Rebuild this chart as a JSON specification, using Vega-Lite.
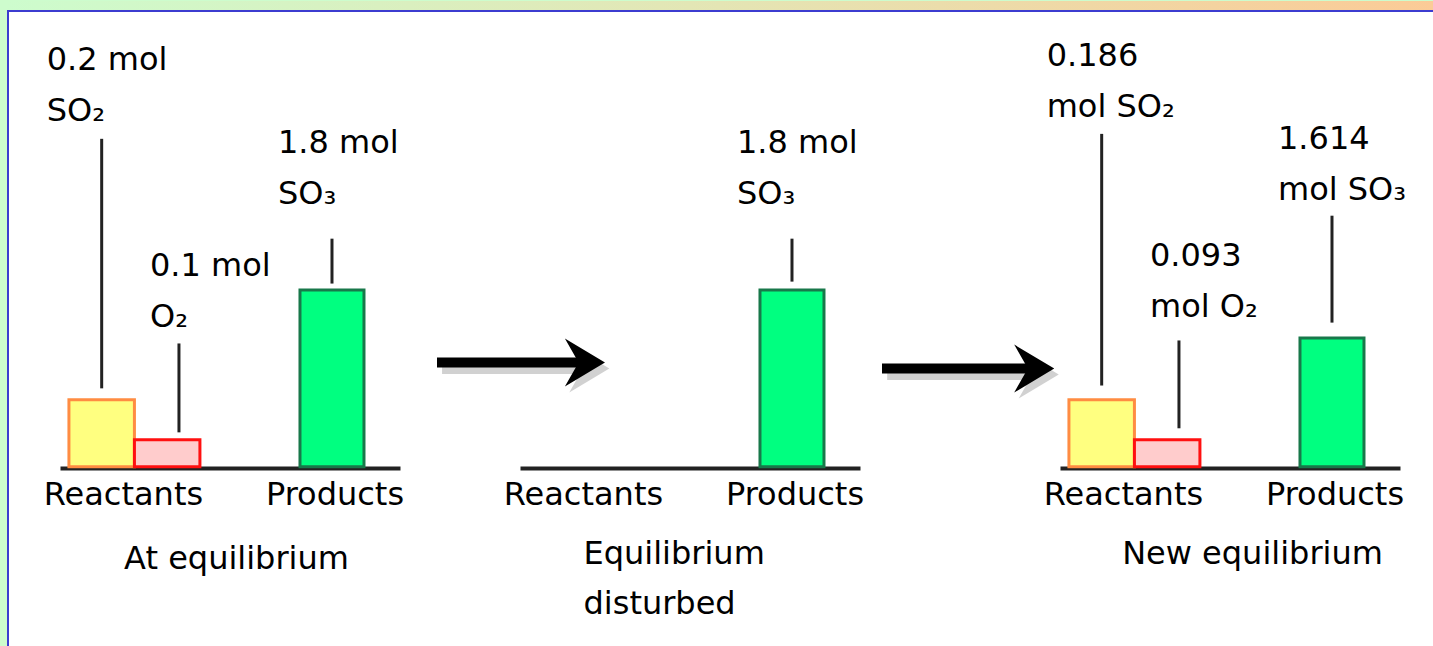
{
  "$schema": "https://vega.github.io/schema/vega-lite/v6.json",
  "width": 1433,
  "height": 646,
  "autosize": {"type": "fit", "contains": "padding"},
  "padding": {"left": 7, "top": 0, "right": 0, "bottom": 0},
  "background": "#cdfccd",
  "config": {"view": {"fill": "#ffffff", "stroke": null}, "font": "DejaVu Sans", "axis": {"labelAngle": 0, "labelOverlap": false, "labelLimit": 0, "labelFlush": false}},
  "datasets": {
    "frame": [{"part": "slide frame"}],
    "amounts": [
      {"stage": "At equilibrium", "group": "Reactants", "species": "SO2", "mol": 0.2, "level": 37.9, "label": "0.2 mol\nSO₂", "label_level": 224.3, "line_top": 185.6, "line_bottom": 44.4},
      {"stage": "At equilibrium", "group": "Reactants", "species": "O2", "mol": 0.1, "level": 15.3, "label": "0.1 mol\nO₂", "label_level": 108.2, "line_top": 69.8, "line_bottom": 19.5},
      {"stage": "At equilibrium", "group": "Products", "species": "SO3", "mol": 1.8, "level": 100, "label": "1.8 mol\nSO₃", "label_level": 177.7, "line_top": 129.1, "line_bottom": 103.7},
      {"stage": "Equilibrium disturbed", "group": "Products", "species": "SO3", "mol": 1.8, "level": 100, "label": "1.8 mol\nSO₃", "label_level": 177.7, "line_top": 129.1, "line_bottom": 104.8},
      {"stage": "New equilibrium", "group": "Reactants", "species": "SO2", "mol": 0.186, "level": 37.9, "label": "0.186\nmol SO₂", "label_level": 226.8, "line_top": 188.4, "line_bottom": 46.0},
      {"stage": "New equilibrium", "group": "Reactants", "species": "O2", "mol": 0.093, "level": 15.3, "label": "0.093\nmol O₂", "label_level": 113.8, "line_top": 71.5, "line_bottom": 21.8},
      {"stage": "New equilibrium", "group": "Products", "species": "SO3", "mol": 1.614, "level": 72.9, "label": "1.614\nmol SO₃", "label_level": 179.8, "line_top": 142.1, "line_bottom": 81.6}
    ],
    "steps": [
      {"from": "At equilibrium", "to": "Equilibrium disturbed"},
      {"from": "Equilibrium disturbed", "to": "New equilibrium"}
    ]
  },
  "resolve": {"scale": {"x": "independent"}, "axis": {"x": "independent"}},
  "layer": [
    {
      "data": {"name": "frame"},
      "layer": [
        {
          "mark": {"type": "rect", "fill": {"gradient": "linear", "x1": 0, "y1": 0, "x2": 1, "y2": 0, "stops": [{"offset": 0, "color": "#cdfccd"}, {"offset": 0.5, "color": "#e4e5b4"}, {"offset": 1, "color": "#fbcb97"}]}},
          "encoding": {
            "x": {"datum": 0, "type": "quantitative", "scale": {"domain": [0, 1], "nice": false, "zero": false}, "axis": null},
            "x2": {"datum": 1},
            "y": {"datum": 258.5, "type": "quantitative", "scale": {"domain": [-101.4, 258.5], "nice": false, "zero": false}, "axis": null},
            "y2": {"datum": 263.6}
          }
        },
        {
          "mark": {"type": "rule", "color": "#3c3cd0", "strokeWidth": 4, "clip": true},
          "encoding": {
            "x": {"datum": 0, "type": "quantitative", "scale": {"domain": [0, 1], "nice": false, "zero": false}, "axis": null},
            "y": {"datum": -101.4, "type": "quantitative", "scale": {"domain": [-101.4, 258.5], "nice": false, "zero": false}, "axis": null},
            "y2": {"datum": 258.5}
          }
        },
        {
          "mark": {"type": "rule", "color": "#3c3cd0", "strokeWidth": 4, "clip": true},
          "encoding": {
            "x": {"datum": 0, "type": "quantitative", "scale": {"domain": [0, 1], "nice": false, "zero": false}, "axis": null},
            "x2": {"datum": 1},
            "y": {"datum": 258.5, "type": "quantitative", "scale": {"domain": [-101.4, 258.5], "nice": false, "zero": false}, "axis": null}
          }
        }
      ]
    },
    {
      "data": {"name": "amounts"},
      "transform": [{"filter": "datum.stage === 'At equilibrium'"}],
      "encoding": {
        "x": {"field": "group", "type": "nominal", "sort": null,
          "scale": {"domain": ["Reactants", "Products"], "range": [53, 393], "paddingInner": 0.337, "paddingOuter": 0.029, "align": 0.78},
          "axis": {"orient": "bottom", "offset": -178, "domain": true, "domainColor": "#222222", "domainWidth": 4, "ticks": false, "tickSize": 0, "grid": false, "labelAngle": 0, "labelFont": "DejaVu Sans", "labelFontSize": 32, "labelColor": "#000000", "labelPadding": 11, "labelOffset": {"condition": {"test": "datum.value === 'Reactants'", "value": -11}, "value": 3}, "title": "At equilibrium", "titleFont": "DejaVu Sans", "titleFontSize": 32, "titleFontWeight": "normal", "titleColor": "#000000", "titlePadding": 33, "titleX": 229, "titleAlign": "center", "titleLineHeight": 50}}
      },
      "layer": [
        {
          "transform": [{"filter": "datum.group === 'Reactants'"}],
          "mark": {"type": "bar", "strokeWidth": 3},
          "encoding": {
            "xOffset": {"field": "species", "type": "nominal", "sort": null, "scale": {"domain": ["SO2", "O2"], "paddingInner": 0, "paddingOuter": 0}},
            "y": {"field": "level", "type": "quantitative", "scale": {"domain": [-101.4, 258.5], "nice": false, "zero": false}, "axis": null},
            "y2": {"datum": 0},
            "fill": {"field": "species", "type": "nominal", "scale": {"domain": ["SO2", "O2", "SO3"], "range": ["#ffff80", "#ffcccc", "#00ff80"]}, "legend": null},
            "stroke": {"field": "species", "type": "nominal", "scale": {"domain": ["SO2", "O2", "SO3"], "range": ["#ff8c42", "#ff1010", "#18784a"]}, "legend": null}
          }
        },
        {
          "transform": [{"filter": "datum.group === 'Products'"}],
          "mark": {"type": "bar", "strokeWidth": 3, "width": 64},
          "encoding": {
            "y": {"field": "level", "type": "quantitative", "scale": {"domain": [-101.4, 258.5], "nice": false, "zero": false}, "axis": null},
            "y2": {"datum": 0},
            "fill": {"field": "species", "type": "nominal", "scale": {"domain": ["SO2", "O2", "SO3"], "range": ["#ffff80", "#ffcccc", "#00ff80"]}, "legend": null},
            "stroke": {"field": "species", "type": "nominal", "scale": {"domain": ["SO2", "O2", "SO3"], "range": ["#ff8c42", "#ff1010", "#18784a"]}, "legend": null}
          }
        },
        {
          "transform": [{"filter": "datum.species === 'SO2'"}],
          "encoding": {
            "x": {"field": "group", "type": "nominal", "sort": null, "bandPosition": 0.25,
              "scale": {"domain": ["Reactants", "Products"], "range": [53, 393], "paddingInner": 0.337, "paddingOuter": 0.029, "align": 0.78},
              "axis": {"orient": "bottom", "offset": -178, "domain": true, "domainColor": "#222222", "domainWidth": 4, "ticks": false, "tickSize": 0, "grid": false, "labelAngle": 0, "labelFont": "DejaVu Sans", "labelFontSize": 32, "labelColor": "#000000", "labelPadding": 11, "labelOffset": {"condition": {"test": "datum.value === 'Reactants'", "value": -11}, "value": 3}, "title": "At equilibrium", "titleFont": "DejaVu Sans", "titleFontSize": 32, "titleFontWeight": "normal", "titleColor": "#000000", "titlePadding": 33, "titleX": 229, "titleAlign": "center", "titleLineHeight": 50}}
          },
          "layer": [
            {"mark": {"type": "rule", "color": "#222222", "strokeWidth": 3},
             "encoding": {"y": {"field": "line_top", "type": "quantitative", "scale": {"domain": [-101.4, 258.5], "nice": false, "zero": false}, "axis": null}, "y2": {"field": "line_bottom"}}},
            {"mark": {"type": "text", "align": "left", "baseline": "alphabetic", "dx": -55, "fontSize": 32, "lineHeight": 51, "lineBreak": "\n", "color": "#000000"},
             "encoding": {"y": {"field": "label_level", "type": "quantitative", "scale": {"domain": [-101.4, 258.5], "nice": false, "zero": false}, "axis": null}, "text": {"field": "label"}}}
          ]
        },
        {
          "transform": [{"filter": "datum.species === 'O2'"}],
          "encoding": {
            "x": {"field": "group", "type": "nominal", "sort": null, "bandPosition": 0.84,
              "scale": {"domain": ["Reactants", "Products"], "range": [53, 393], "paddingInner": 0.337, "paddingOuter": 0.029, "align": 0.78},
              "axis": {"orient": "bottom", "offset": -178, "domain": true, "domainColor": "#222222", "domainWidth": 4, "ticks": false, "tickSize": 0, "grid": false, "labelAngle": 0, "labelFont": "DejaVu Sans", "labelFontSize": 32, "labelColor": "#000000", "labelPadding": 11, "labelOffset": {"condition": {"test": "datum.value === 'Reactants'", "value": -11}, "value": 3}, "title": "At equilibrium", "titleFont": "DejaVu Sans", "titleFontSize": 32, "titleFontWeight": "normal", "titleColor": "#000000", "titlePadding": 33, "titleX": 229, "titleAlign": "center", "titleLineHeight": 50}}
          },
          "layer": [
            {"mark": {"type": "rule", "color": "#222222", "strokeWidth": 3},
             "encoding": {"y": {"field": "line_top", "type": "quantitative", "scale": {"domain": [-101.4, 258.5], "nice": false, "zero": false}, "axis": null}, "y2": {"field": "line_bottom"}}},
            {"mark": {"type": "text", "align": "left", "baseline": "alphabetic", "dx": -29, "fontSize": 32, "lineHeight": 51, "lineBreak": "\n", "color": "#000000"},
             "encoding": {"y": {"field": "label_level", "type": "quantitative", "scale": {"domain": [-101.4, 258.5], "nice": false, "zero": false}, "axis": null}, "text": {"field": "label"}}}
          ]
        },
        {
          "transform": [{"filter": "datum.species === 'SO3'"}],
          "layer": [
            {"mark": {"type": "rule", "color": "#222222", "strokeWidth": 3},
             "encoding": {"y": {"field": "line_top", "type": "quantitative", "scale": {"domain": [-101.4, 258.5], "nice": false, "zero": false}, "axis": null}, "y2": {"field": "line_bottom"}}},
            {"mark": {"type": "text", "align": "left", "baseline": "alphabetic", "dx": -54, "fontSize": 32, "lineHeight": 51, "lineBreak": "\n", "color": "#000000"},
             "encoding": {"y": {"field": "label_level", "type": "quantitative", "scale": {"domain": [-101.4, 258.5], "nice": false, "zero": false}, "axis": null}, "text": {"field": "label"}}}
          ]
        }
      ]
    },
    {
      "data": {"name": "steps"},
      "transform": [{"filter": "datum.to === 'Equilibrium disturbed'"}],
      "layer": [
        {"mark": {"type": "rule", "color": "#7a7a7a", "opacity": 0.35, "strokeWidth": 11, "strokeCap": "butt"},
         "encoding": {
           "x": {"datum": 0.03, "type": "quantitative", "scale": {"domain": [0, 1], "range": [430, 598], "nice": false, "zero": false}, "axis": null},
           "x2": {"datum": 0.88},
           "y": {"datum": 55.6, "type": "quantitative", "scale": {"domain": [-101.4, 258.5], "nice": false, "zero": false}, "axis": null}}},
        {"mark": {"type": "point", "shape": "M 1 0 L -0.67 -1 L -0.1 0 L -0.67 1 Z", "size": 2304, "filled": true, "color": "#7a7a7a", "opacity": 0.35, "strokeWidth": 0},
         "encoding": {
           "x": {"datum": 0.883, "type": "quantitative", "scale": {"domain": [0, 1], "range": [430, 598], "nice": false, "zero": false}, "axis": null},
           "y": {"datum": 55.6, "type": "quantitative", "scale": {"domain": [-101.4, 258.5], "nice": false, "zero": false}, "axis": null}}},
        {"mark": {"type": "rule", "color": "#000000", "strokeWidth": 10, "strokeCap": "butt"},
         "encoding": {
           "x": {"datum": 0, "type": "quantitative", "scale": {"domain": [0, 1], "range": [430, 598], "nice": false, "zero": false}, "axis": null},
           "x2": {"datum": 0.85},
           "y": {"datum": 59, "type": "quantitative", "scale": {"domain": [-101.4, 258.5], "nice": false, "zero": false}, "axis": null}}},
        {"mark": {"type": "point", "shape": "M 1 0 L -0.67 -1 L -0.1 0 L -0.67 1 Z", "size": 2304, "filled": true, "color": "#000000", "opacity": 1, "strokeWidth": 0},
         "encoding": {
           "x": {"datum": 0.857, "type": "quantitative", "scale": {"domain": [0, 1], "range": [430, 598], "nice": false, "zero": false}, "axis": null},
           "y": {"datum": 59, "type": "quantitative", "scale": {"domain": [-101.4, 258.5], "nice": false, "zero": false}, "axis": null}}}
      ]
    },
    {
      "data": {"name": "amounts"},
      "transform": [{"filter": "datum.stage === 'Equilibrium disturbed'"}],
      "encoding": {
        "x": {"field": "group", "type": "nominal", "sort": null,
          "scale": {"domain": ["Reactants", "Products"], "range": [513, 853], "paddingInner": 0.337, "paddingOuter": 0.029, "align": 0.78},
          "axis": {"orient": "bottom", "offset": -178, "domain": true, "domainColor": "#222222", "domainWidth": 4, "ticks": false, "tickSize": 0, "grid": false, "labelAngle": 0, "labelFont": "DejaVu Sans", "labelFontSize": 32, "labelColor": "#000000", "labelPadding": 11, "labelOffset": {"condition": {"test": "datum.value === 'Reactants'", "value": -11}, "value": 3}, "title": ["Equilibrium", "disturbed"], "titleFont": "DejaVu Sans", "titleFontSize": 32, "titleFontWeight": "normal", "titleColor": "#000000", "titlePadding": 28, "titleX": 576, "titleAlign": "left", "titleLineHeight": 50}}
      },
      "layer": [
        {
          "transform": [{"filter": "datum.group === 'Products'"}],
          "mark": {"type": "bar", "strokeWidth": 3, "width": 64},
          "encoding": {
            "y": {"field": "level", "type": "quantitative", "scale": {"domain": [-101.4, 258.5], "nice": false, "zero": false}, "axis": null},
            "y2": {"datum": 0},
            "fill": {"field": "species", "type": "nominal", "scale": {"domain": ["SO2", "O2", "SO3"], "range": ["#ffff80", "#ffcccc", "#00ff80"]}, "legend": null},
            "stroke": {"field": "species", "type": "nominal", "scale": {"domain": ["SO2", "O2", "SO3"], "range": ["#ff8c42", "#ff1010", "#18784a"]}, "legend": null}
          }
        },
        {
          "transform": [{"filter": "datum.species === 'SO3'"}],
          "layer": [
            {"mark": {"type": "rule", "color": "#222222", "strokeWidth": 3},
             "encoding": {"y": {"field": "line_top", "type": "quantitative", "scale": {"domain": [-101.4, 258.5], "nice": false, "zero": false}, "axis": null}, "y2": {"field": "line_bottom"}}},
            {"mark": {"type": "text", "align": "left", "baseline": "alphabetic", "dx": -55, "fontSize": 32, "lineHeight": 51, "lineBreak": "\n", "color": "#000000"},
             "encoding": {"y": {"field": "label_level", "type": "quantitative", "scale": {"domain": [-101.4, 258.5], "nice": false, "zero": false}, "axis": null}, "text": {"field": "label"}}}
          ]
        }
      ]
    },
    {
      "data": {"name": "steps"},
      "transform": [{"filter": "datum.to === 'New equilibrium'"}],
      "layer": [
        {"mark": {"type": "rule", "color": "#7a7a7a", "opacity": 0.35, "strokeWidth": 11, "strokeCap": "butt"},
         "encoding": {
           "x": {"datum": 0.03, "type": "quantitative", "scale": {"domain": [0, 1], "range": [875, 1048], "nice": false, "zero": false}, "axis": null},
           "x2": {"datum": 0.88},
           "y": {"datum": 52.2, "type": "quantitative", "scale": {"domain": [-101.4, 258.5], "nice": false, "zero": false}, "axis": null}}},
        {"mark": {"type": "point", "shape": "M 1 0 L -0.67 -1 L -0.1 0 L -0.67 1 Z", "size": 2304, "filled": true, "color": "#7a7a7a", "opacity": 0.35, "strokeWidth": 0},
         "encoding": {
           "x": {"datum": 0.883, "type": "quantitative", "scale": {"domain": [0, 1], "range": [875, 1048], "nice": false, "zero": false}, "axis": null},
           "y": {"datum": 52.2, "type": "quantitative", "scale": {"domain": [-101.4, 258.5], "nice": false, "zero": false}, "axis": null}}},
        {"mark": {"type": "rule", "color": "#000000", "strokeWidth": 10, "strokeCap": "butt"},
         "encoding": {
           "x": {"datum": 0, "type": "quantitative", "scale": {"domain": [0, 1], "range": [875, 1048], "nice": false, "zero": false}, "axis": null},
           "x2": {"datum": 0.85},
           "y": {"datum": 55.6, "type": "quantitative", "scale": {"domain": [-101.4, 258.5], "nice": false, "zero": false}, "axis": null}}},
        {"mark": {"type": "point", "shape": "M 1 0 L -0.67 -1 L -0.1 0 L -0.67 1 Z", "size": 2304, "filled": true, "color": "#000000", "opacity": 1, "strokeWidth": 0},
         "encoding": {
           "x": {"datum": 0.857, "type": "quantitative", "scale": {"domain": [0, 1], "range": [875, 1048], "nice": false, "zero": false}, "axis": null},
           "y": {"datum": 55.6, "type": "quantitative", "scale": {"domain": [-101.4, 258.5], "nice": false, "zero": false}, "axis": null}}}
      ]
    },
    {
      "data": {"name": "amounts"},
      "transform": [{"filter": "datum.stage === 'New equilibrium'"}],
      "encoding": {
        "x": {"field": "group", "type": "nominal", "sort": null,
          "scale": {"domain": ["Reactants", "Products"], "range": [1053, 1393], "paddingInner": 0.337, "paddingOuter": 0.029, "align": 0.78},
          "axis": {"orient": "bottom", "offset": -178, "domain": true, "domainColor": "#222222", "domainWidth": 4, "ticks": false, "tickSize": 0, "grid": false, "labelAngle": 0, "labelFont": "DejaVu Sans", "labelFontSize": 32, "labelColor": "#000000", "labelPadding": 11, "labelOffset": {"condition": {"test": "datum.value === 'Reactants'", "value": -11}, "value": 3}, "title": "New equilibrium", "titleFont": "DejaVu Sans", "titleFontSize": 32, "titleFontWeight": "normal", "titleColor": "#000000", "titlePadding": 28, "titleX": 1245, "titleAlign": "center", "titleLineHeight": 50}}
      },
      "layer": [
        {
          "transform": [{"filter": "datum.group === 'Reactants'"}],
          "mark": {"type": "bar", "strokeWidth": 3},
          "encoding": {
            "xOffset": {"field": "species", "type": "nominal", "sort": null, "scale": {"domain": ["SO2", "O2"], "paddingInner": 0, "paddingOuter": 0}},
            "y": {"field": "level", "type": "quantitative", "scale": {"domain": [-101.4, 258.5], "nice": false, "zero": false}, "axis": null},
            "y2": {"datum": 0},
            "fill": {"field": "species", "type": "nominal", "scale": {"domain": ["SO2", "O2", "SO3"], "range": ["#ffff80", "#ffcccc", "#00ff80"]}, "legend": null},
            "stroke": {"field": "species", "type": "nominal", "scale": {"domain": ["SO2", "O2", "SO3"], "range": ["#ff8c42", "#ff1010", "#18784a"]}, "legend": null}
          }
        },
        {
          "transform": [{"filter": "datum.group === 'Products'"}],
          "mark": {"type": "bar", "strokeWidth": 3, "width": 64},
          "encoding": {
            "y": {"field": "level", "type": "quantitative", "scale": {"domain": [-101.4, 258.5], "nice": false, "zero": false}, "axis": null},
            "y2": {"datum": 0},
            "fill": {"field": "species", "type": "nominal", "scale": {"domain": ["SO2", "O2", "SO3"], "range": ["#ffff80", "#ffcccc", "#00ff80"]}, "legend": null},
            "stroke": {"field": "species", "type": "nominal", "scale": {"domain": ["SO2", "O2", "SO3"], "range": ["#ff8c42", "#ff1010", "#18784a"]}, "legend": null}
          }
        },
        {
          "transform": [{"filter": "datum.species === 'SO2'"}],
          "encoding": {
            "x": {"field": "group", "type": "nominal", "sort": null, "bandPosition": 0.25,
              "scale": {"domain": ["Reactants", "Products"], "range": [1053, 1393], "paddingInner": 0.337, "paddingOuter": 0.029, "align": 0.78},
              "axis": {"orient": "bottom", "offset": -178, "domain": true, "domainColor": "#222222", "domainWidth": 4, "ticks": false, "tickSize": 0, "grid": false, "labelAngle": 0, "labelFont": "DejaVu Sans", "labelFontSize": 32, "labelColor": "#000000", "labelPadding": 11, "labelOffset": {"condition": {"test": "datum.value === 'Reactants'", "value": -11}, "value": 3}, "title": "New equilibrium", "titleFont": "DejaVu Sans", "titleFontSize": 32, "titleFontWeight": "normal", "titleColor": "#000000", "titlePadding": 28, "titleX": 1245, "titleAlign": "center", "titleLineHeight": 50}}
          },
          "layer": [
            {"mark": {"type": "rule", "color": "#222222", "strokeWidth": 3},
             "encoding": {"y": {"field": "line_top", "type": "quantitative", "scale": {"domain": [-101.4, 258.5], "nice": false, "zero": false}, "axis": null}, "y2": {"field": "line_bottom"}}},
            {"mark": {"type": "text", "align": "left", "baseline": "alphabetic", "dx": -55, "fontSize": 32, "lineHeight": 51, "lineBreak": "\n", "color": "#000000"},
             "encoding": {"y": {"field": "label_level", "type": "quantitative", "scale": {"domain": [-101.4, 258.5], "nice": false, "zero": false}, "axis": null}, "text": {"field": "label"}}}
          ]
        },
        {
          "transform": [{"filter": "datum.species === 'O2'"}],
          "encoding": {
            "x": {"field": "group", "type": "nominal", "sort": null, "bandPosition": 0.84,
              "scale": {"domain": ["Reactants", "Products"], "range": [1053, 1393], "paddingInner": 0.337, "paddingOuter": 0.029, "align": 0.78},
              "axis": {"orient": "bottom", "offset": -178, "domain": true, "domainColor": "#222222", "domainWidth": 4, "ticks": false, "tickSize": 0, "grid": false, "labelAngle": 0, "labelFont": "DejaVu Sans", "labelFontSize": 32, "labelColor": "#000000", "labelPadding": 11, "labelOffset": {"condition": {"test": "datum.value === 'Reactants'", "value": -11}, "value": 3}, "title": "New equilibrium", "titleFont": "DejaVu Sans", "titleFontSize": 32, "titleFontWeight": "normal", "titleColor": "#000000", "titlePadding": 28, "titleX": 1245, "titleAlign": "center", "titleLineHeight": 50}}
          },
          "layer": [
            {"mark": {"type": "rule", "color": "#222222", "strokeWidth": 3},
             "encoding": {"y": {"field": "line_top", "type": "quantitative", "scale": {"domain": [-101.4, 258.5], "nice": false, "zero": false}, "axis": null}, "y2": {"field": "line_bottom"}}},
            {"mark": {"type": "text", "align": "left", "baseline": "alphabetic", "dx": -29, "fontSize": 32, "lineHeight": 51, "lineBreak": "\n", "color": "#000000"},
             "encoding": {"y": {"field": "label_level", "type": "quantitative", "scale": {"domain": [-101.4, 258.5], "nice": false, "zero": false}, "axis": null}, "text": {"field": "label"}}}
          ]
        },
        {
          "transform": [{"filter": "datum.species === 'SO3'"}],
          "layer": [
            {"mark": {"type": "rule", "color": "#222222", "strokeWidth": 3},
             "encoding": {"y": {"field": "line_top", "type": "quantitative", "scale": {"domain": [-101.4, 258.5], "nice": false, "zero": false}, "axis": null}, "y2": {"field": "line_bottom"}}},
            {"mark": {"type": "text", "align": "left", "baseline": "alphabetic", "dx": -54, "fontSize": 32, "lineHeight": 51, "lineBreak": "\n", "color": "#000000"},
             "encoding": {"y": {"field": "label_level", "type": "quantitative", "scale": {"domain": [-101.4, 258.5], "nice": false, "zero": false}, "axis": null}, "text": {"field": "label"}}}
          ]
        }
      ]
    }
  ]
}
